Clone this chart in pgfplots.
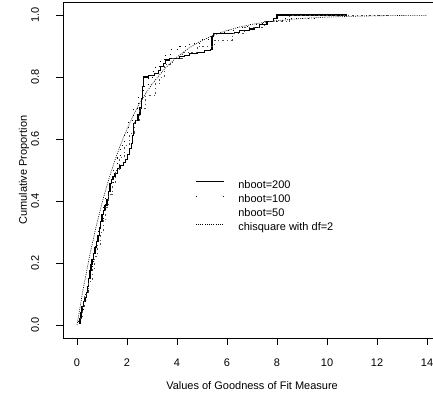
\documentclass[border=0pt]{standalone}
\usepackage{fontspec}
\setmainfont{Liberation Sans}
\usepackage{pgfplots}
\pgfplotsset{compat=1.18}
\pgfplotsset{sparselegend/.style={legend image code/.code={\draw[##1, dash pattern=on 0.9bp off 26.2bp] (0bp,3.5bp) -- (28bp,3.5bp);}}}
\begin{document}
\begin{tikzpicture}
\begin{axis}[
  scale only axis, width=370bp, height=336bp,
  xmin=-0.56, xmax=14.24, ymin=-0.042, ymax=1.042,
  axis x line*=box, axis y line*=left,
  axis line style={-, line width=0.8bp},
  xtick={0,2,4,6,8,10,12,14}, ytick={0,0.2,0.4,0.6,0.8,1.0},
  xtick pos=bottom, ytick pos=left,
  tick align=outside, major tick length=7bp,
  tick style={black, line width=0.7bp},
  font=\fontsize{11bp}{13bp}\selectfont,
  /pgf/number format/assume math mode=true,
  xticklabel style={yshift=-10bp},
  yticklabel style={xshift=-21bp, rotate=90, anchor=center, /pgf/number format/.cd, fixed, fixed zerofill, precision=1},
  xlabel={Values of Goodness of Fit Measure},
  xlabel style={at={(rel axis cs:0.511,0)}, anchor=center, yshift=-48bp},
  legend style={at={(axis cs:4.6,0.474)}, anchor=north west, draw=none, fill=none,
    font=\fontsize{11bp}{13bp}\selectfont,
    row sep=4.2bp, nodes={inner sep=0bp, text height=8bp, text depth=2bp},
    /tikz/every odd column/.append style={column sep=14bp}},
  legend cell align=left,
  legend image code/.code={\draw[#1] (0bp,3.5bp) -- (28bp,3.5bp);},
  no markers,
]
\coordinate (BL) at (rel axis cs:0,0);
\coordinate (TR) at (rel axis cs:1,1);
\coordinate (ML) at (rel axis cs:0,0.5);
% nboot=200
\addplot[black, line width=1.1bp, const plot] coordinates {
(0.08,0.005) (0.12,0.02) (0.16,0.04) (0.2,0.06) (0.26,0.075) (0.32,0.09) (0.38,0.105)
(0.42,0.125) (0.47,0.15) (0.52,0.175) (0.56,0.195) (0.6,0.21) (0.65,0.23) (0.72,0.25)
(0.78,0.27) (0.84,0.29) (0.9,0.315) (0.95,0.335) (1.0,0.355) (1.06,0.37) (1.12,0.385)
(1.2,0.405) (1.26,0.43) (1.32,0.455) (1.38,0.47) (1.44,0.48) (1.52,0.49) (1.62,0.505)
(1.72,0.515) (1.85,0.525) (1.95,0.535) (2.02,0.55) (2.1,0.57) (2.18,0.585) (2.22,0.61)
(2.26,0.65) (2.35,0.66) (2.44,0.68) (2.52,0.7) (2.58,0.73) (2.62,0.77) (2.66,0.8)
(2.85,0.805) (3.1,0.81) (3.25,0.82) (3.35,0.835) (3.45,0.845) (3.55,0.855) (3.7,0.86)
(4.1,0.865) (4.3,0.87) (4.5,0.875) (4.8,0.88) (5.1,0.885) (5.35,0.89) (5.4,0.93)
(5.45,0.94) (6.3,0.945) (6.5,0.95) (6.9,0.955) (7.1,0.96) (7.3,0.97) (7.6,0.98)
(7.85,0.99) (8.0,1.0) (10.8,1.0)
};
\addlegendentry{nboot=200}
% nboot=100
\addplot[black, line width=0.8bp, const plot, dash pattern=on 0.8bp off 5bp, sparselegend] coordinates {
(0.05,0.01) (0.15,0.04) (0.25,0.08) (0.35,0.11) (0.45,0.15) (0.55,0.19) (0.65,0.23)
(0.75,0.27) (0.85,0.31) (0.95,0.34) (1.05,0.38) (1.15,0.42) (1.3,0.46) (1.45,0.5)
(1.6,0.54) (1.75,0.58) (1.9,0.62) (2.05,0.66) (2.25,0.7) (2.45,0.74) (2.65,0.77)
(2.85,0.8) (3.05,0.83) (3.3,0.85) (3.5,0.87) (3.75,0.89) (4.1,0.9) (4.5,0.91)
(5.0,0.92) (5.4,0.94) (5.9,0.95) (6.4,0.96) (6.8,0.97) (7.4,0.98) (8.2,0.99) (9.5,1.0)
};
\addlegendentry{nboot=100}
% nboot=50
\addplot[black!70, line width=0.6bp, const plot, dash pattern=on 2bp off 3bp on 0.6bp off 3bp, forget plot] coordinates {
(0.1,0.02) (0.2,0.06) (0.3,0.1) (0.45,0.14) (0.6,0.18) (0.7,0.22) (0.8,0.26) (0.95,0.3)
(1.05,0.34) (1.15,0.38) (1.25,0.42) (1.4,0.46) (1.55,0.5) (1.7,0.54) (1.9,0.58)
(2.1,0.62) (2.3,0.66) (2.5,0.7) (2.75,0.74) (3.15,0.78) (3.3,0.8) (3.5,0.84) (3.8,0.86)
(4.2,0.88) (4.8,0.9) (5.5,0.92) (6.2,0.94) (6.7,0.96) (7.5,0.98) (8.5,1.0) (12.5,1.0)
};
\addlegendimage{empty legend}
\addlegendentry{nboot=50}
% chisquare df=2
\addplot[black, line width=0.6bp, dash pattern=on 1bp off 1.2bp] coordinates {
(0,0) (0.25,0.1175) (0.5,0.2212) (0.75,0.3127) (1,0.3935) (1.25,0.4647) (1.5,0.5276)
(1.75,0.5831) (2,0.6321) (2.25,0.6753) (2.5,0.7135) (2.75,0.7472) (3,0.7769) (3.5,0.8262)
(4,0.8647) (4.5,0.8946) (5,0.9179) (5.5,0.9361) (6,0.9502) (6.5,0.9612) (7,0.9698)
(7.5,0.9765) (8,0.9817) (9,0.9889) (10,0.9933) (11,0.9959) (12,0.9975) (13,0.9985) (14,0.9991)
};
\addlegendentry{chisquare with df=2}
\end{axis}
\node[rotate=90, anchor=center, font=\fontsize{11bp}{13bp}\selectfont] at ([xshift=-39bp]ML) {Cumulative Proportion};
\pgfresetboundingbox
\useasboundingbox ([shift={(-63bp,-62bp)}]BL) rectangle ([shift={(0bp,2bp)}]TR);
\end{tikzpicture}
\end{document}
